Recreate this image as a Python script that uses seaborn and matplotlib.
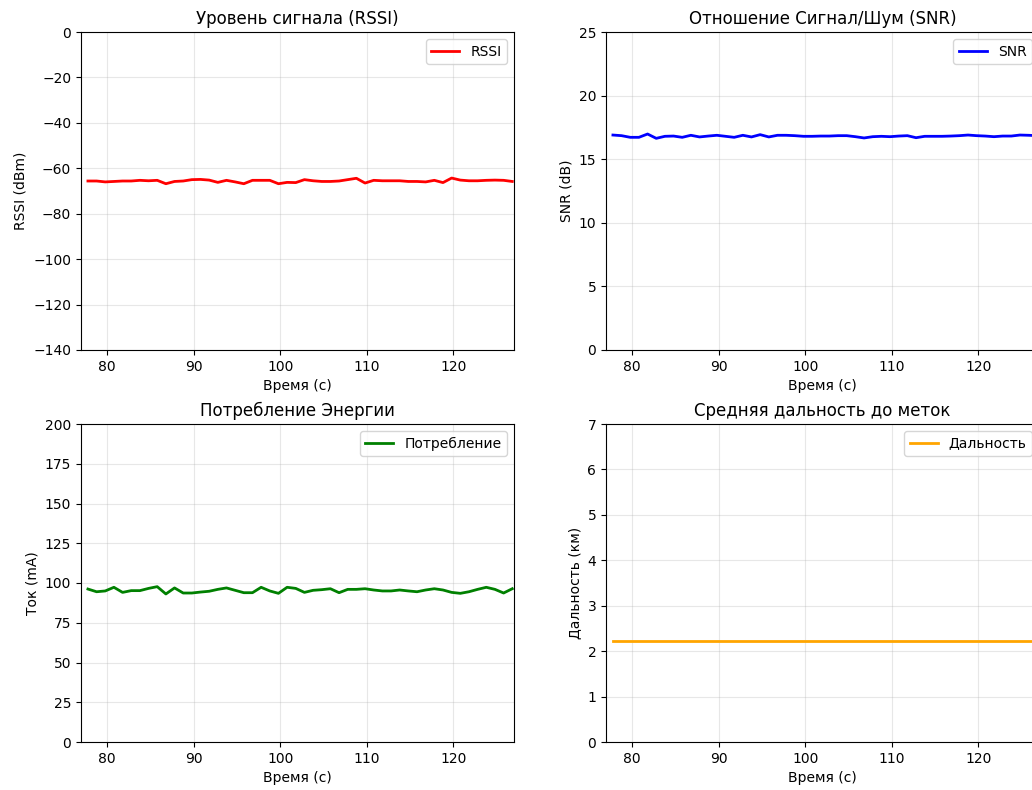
import numpy as np
import pandas as pd
import matplotlib
matplotlib.use("Agg")
import matplotlib.pyplot as plt
import seaborn as sns

# Sampling times (s), one reading per second
time_s = np.round(np.arange(77.8, 127.8, 1.0), 1)

rssi_dbm = [-65.6, -65.6, -66.0, -65.8, -65.6, -65.6, -65.3, -65.5, -65.3, -66.8,
            -65.8, -65.6, -65.0, -64.9, -65.2, -66.2, -65.3, -66.0, -66.8, -65.3,
            -65.3, -65.3, -66.8, -66.2, -66.3, -65.0, -65.5, -65.8, -65.8, -65.6,
            -65.0, -64.4, -66.5, -65.3, -65.5, -65.5, -65.5, -65.8, -65.8, -66.0,
            -65.3, -66.3, -64.3, -65.2, -65.5, -65.5, -65.3, -65.2, -65.3, -65.8]

snr_db = [16.90, 16.85, 16.72, 16.72, 16.98, 16.64, 16.80, 16.82, 16.72, 16.88,
          16.75, 16.82, 16.88, 16.80, 16.72, 16.88, 16.75, 16.93, 16.75, 16.88,
          16.88, 16.85, 16.80, 16.80, 16.82, 16.82, 16.85, 16.85, 16.77, 16.67,
          16.77, 16.80, 16.77, 16.82, 16.85, 16.69, 16.80, 16.80, 16.80, 16.82,
          16.85, 16.90, 16.85, 16.82, 16.77, 16.82, 16.82, 16.90, 16.88, 16.85]

current_ma = [96.2, 94.5, 95.0, 97.3, 94.1, 95.2, 95.2, 96.6, 97.7, 93.1,
              96.9, 93.7, 93.7, 94.3, 94.8, 96.0, 96.9, 95.4, 93.9, 93.9,
              97.3, 95.0, 93.5, 97.3, 96.6, 94.1, 95.4, 95.8, 96.4, 93.9,
              96.0, 96.0, 96.4, 95.6, 95.0, 95.0, 95.6, 95.0, 94.5, 95.6,
              96.4, 95.6, 94.1, 93.5, 94.5, 96.0, 97.3, 96.0, 93.7, 96.4]

range_km = [2.22] * len(time_s)

df = pd.DataFrame({
    "t": time_s,
    "rssi": rssi_dbm,
    "snr": snr_db,
    "current": current_ma,
    "range": range_km,
})

W, H = 1032, 790
fig = plt.figure(figsize=(W / 100, H / 100), dpi=100)


def axes_px(x0, y0, x1, y1):
    return fig.add_axes([x0 / W, 1 - y1 / H, (x1 - x0) / W, (y1 - y0) / H])


ax_rssi = axes_px(81, 32, 514, 350)
ax_snr = axes_px(606, 32, 1039, 350)
ax_pwr = axes_px(81, 424, 514, 742)
ax_rng = axes_px(606, 424, 1039, 742)

panels = [
    (ax_rssi, "rssi", "red", "RSSI", "Уровень сигнала (RSSI)", "RSSI (dBm)", (-140, 0), np.arange(-140, 1, 20)),
    (ax_snr, "snr", "blue", "SNR", "Отношение Сигнал/Шум (SNR)", "SNR (dB)", (0, 25), np.arange(0, 26, 5)),
    (ax_pwr, "current", "green", "Потребление", "Потребление Энергии", "Ток (mA)", (0, 200), np.arange(0, 201, 25)),
    (ax_rng, "range", "orange", "Дальность", "Средняя дальность до меток", "Дальность (км)", (0, 7), np.arange(0, 8, 1)),
]

for ax, col, color, label, title, ylabel, ylim, yticks in panels:
    sns.lineplot(data=df, x="t", y=col, ax=ax, color=color, linewidth=2, label=label)
    ax.set_title(title, fontsize=12)
    ax.set_xlabel("Время (с)", fontsize=10)
    ax.set_ylabel(ylabel, fontsize=10)
    ax.set_xlim(77.0, 127.0)
    ax.set_xticks([80, 90, 100, 110, 120])
    ax.set_ylim(*ylim)
    ax.set_yticks(yticks)
    ax.grid(True, alpha=0.3)
    ax.legend(loc="upper right", fontsize=10)

fig.savefig("out.png", dpi=100)
